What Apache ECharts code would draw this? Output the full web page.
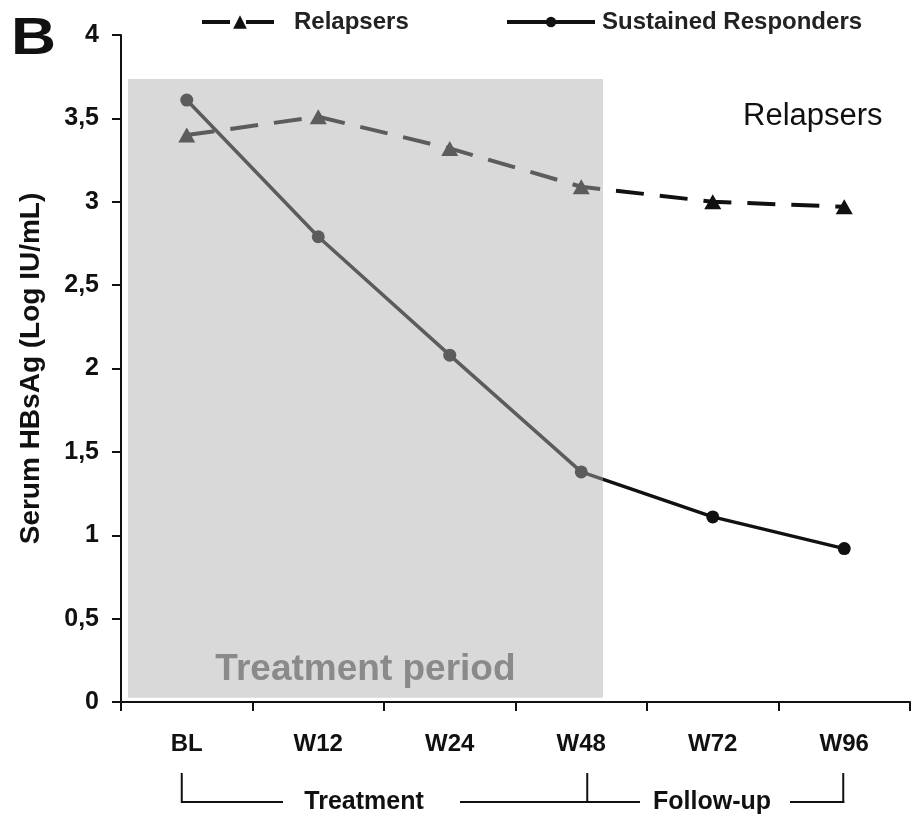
<!DOCTYPE html>
<html>
<head>
<meta charset="utf-8">
<title>Serum HBsAg</title>
<script src="https://cdn.jsdelivr.net/npm/echarts@6/dist/echarts.min.js"></script>
<style>
  html, body { margin: 0; padding: 0; background: #fff; }
  #chart { width: 912px; height: 822px; }
</style>
</head>
<body>
<div id="chart"></div>
<script>
// Visit time points
const timepoints = ['BL', 'W12', 'W24', 'W48', 'W72', 'W96'];
// Mean serum HBsAg, log IU/mL
const relapsers = [3.40, 3.51, 3.32, 3.09, 3.00, 2.97];
const sustainedResponders = [3.61, 2.79, 2.08, 1.38, 1.11, 0.92];
// Y-axis ticks
const yTicks = [0, 0.5, 1, 1.5, 2, 2.5, 3, 3.5, 4];
// Treatment window expressed on the category index scale
const treatmentSpan = [-0.447, 3.165];
const treatmentRange = [0.025, 3.736];

const SANS = '"Liberation Sans", Arial, Helvetica, sans-serif';

const chart = echarts.init(document.getElementById('chart'));

const legendText = { fontFamily: SANS, fontWeight: 'bold', fontSize: 24, color: '#222' };

const option = {
  animation: false,
  backgroundColor: '#fff',
  grid: { left: 121, right: 2, top: 35, bottom: 120, containLabel: false },
  legend: [
    {
      data: ['Relapsers'],
      left: 200, top: 10,
      itemWidth: 76, itemHeight: 17, itemGap: 0, padding: 0,
      lineStyle: { width: 4 },
      textStyle: Object.assign({ padding: [0, 0, 0, 11] }, legendText)
    },
    {
      data: ['Sustained Responders'],
      left: 505, top: 10,
      itemWidth: 88, itemHeight: 13, itemGap: 0, padding: 0,
      lineStyle: { width: 4 },
      textStyle: Object.assign({ padding: [0, 0, 0, 2] }, legendText)
    }
  ],
  xAxis: [
    {
      type: 'category',
      data: timepoints,
      boundaryGap: true,
      axisLine: { lineStyle: { color: '#111', width: 2 } },
      axisTick: { show: true, length: 9, lineStyle: { color: '#111', width: 2 } },
      axisLabel: { margin: 30, fontFamily: SANS, fontWeight: 'bold', fontSize: 24, color: '#111' },
      splitLine: { show: false }
    },
    {
      type: 'value',
      min: -0.5, max: 5.5,
      show: false
    }
  ],
  yAxis: {
    type: 'value',
    min: 0, max: 4, interval: 0.5,
    name: 'Serum HBsAg (Log IU/mL)',
    nameLocation: 'middle',
    nameGap: 76,
    nameTextStyle: { fontFamily: SANS, fontWeight: 'bold', fontSize: 28, color: '#111' },
    axisLine: { show: true, onZero: false, lineStyle: { color: '#111', width: 2 } },
    axisTick: { show: true, length: 9, lineStyle: { color: '#111', width: 2 } },
    axisLabel: {
      margin: 22, fontFamily: SANS, fontWeight: 'bold', fontSize: 25, color: '#111',
      formatter: v => yTicks.includes(v) ? String(v).replace('.', ',') : ''
    },
    splitLine: { show: false }
  },
  series: [
    {
      name: 'Relapsers',
      type: 'line',
      data: relapsers,
      z: 2,
      symbol: 'triangle',
      symbolSize: [17, 15],
      itemStyle: { color: '#111' },
      lineStyle: { color: '#111', width: 4, type: [28, 16] }
    },
    {
      name: 'Sustained Responders',
      type: 'line',
      data: sustainedResponders,
      z: 2,
      symbol: 'circle',
      symbolSize: 13,
      itemStyle: { color: '#111' },
      lineStyle: { color: '#111', width: 3.5 }
    },
    {
      // Treatment period band, laid over the lines as a translucent veil
      name: 'period',
      type: 'line',
      xAxisIndex: 1,
      data: [],
      z: 5,
      silent: true,
      markArea: {
        z: 10,
        silent: true,
        itemStyle: { color: 'rgba(176,176,176,0.48)' },
        label: {
          show: true,
          position: 'insideBottom',
          distance: 10,
          formatter: 'Treatment period',
          fontFamily: SANS, fontWeight: 'bold', fontSize: 37, color: '#8a8a8a'
        },
        data: [[
          { xAxis: treatmentSpan[0], yAxis: treatmentRange[0] },
          { xAxis: treatmentSpan[1], yAxis: treatmentRange[1] }
        ]]
      }
    }
  ]
};

chart.setOption(option);

// Panel letter, group caption and the treatment / follow-up brackets under the axis
function drawAnnotations() {
  const px = i => chart.convertToPixel({ xAxisIndex: 0 }, timepoints[i]);
  const xBL = px(0) - 5, xW48 = px(3) + 6, xW96 = px(5) - 1;
  const yTop = 773, yBot = 802;
  const line = (x1, y1, x2, y2) => ({
    type: 'line', shape: { x1, y1, x2, y2 },
    style: { stroke: '#111', lineWidth: 2 }, silent: true
  });
  const caption = (text, x) => ({
    type: 'text', x, y: yBot,
    style: { text, align: 'center', verticalAlign: 'middle', fontFamily: SANS, fontWeight: 'bold', fontSize: 25, fill: '#111' }
  });
  chart.setOption({
    graphic: [
      { type: 'text', left: 11, top: 14, scaleX: 1.2, style: { text: 'B', fontFamily: SANS, fontWeight: 'bold', fontSize: 52, fill: '#111' } },
      { type: 'text', left: 743, top: 101, style: { text: 'Relapsers', fontFamily: SANS, fontSize: 31, fill: '#111' } },
      line(xBL, yTop, xBL, yBot + 1),
      line(xBL, yBot, 283, yBot),
      caption('Treatment', 364),
      line(460, yBot, 640, yBot),
      line(xW48, yTop, xW48, yBot),
      caption('Follow-up', 712),
      line(790, yBot, xW96 + 1, yBot),
      line(xW96, yTop, xW96, yBot + 1)
    ]
  });
}
drawAnnotations();
</script>
</body>
</html>
